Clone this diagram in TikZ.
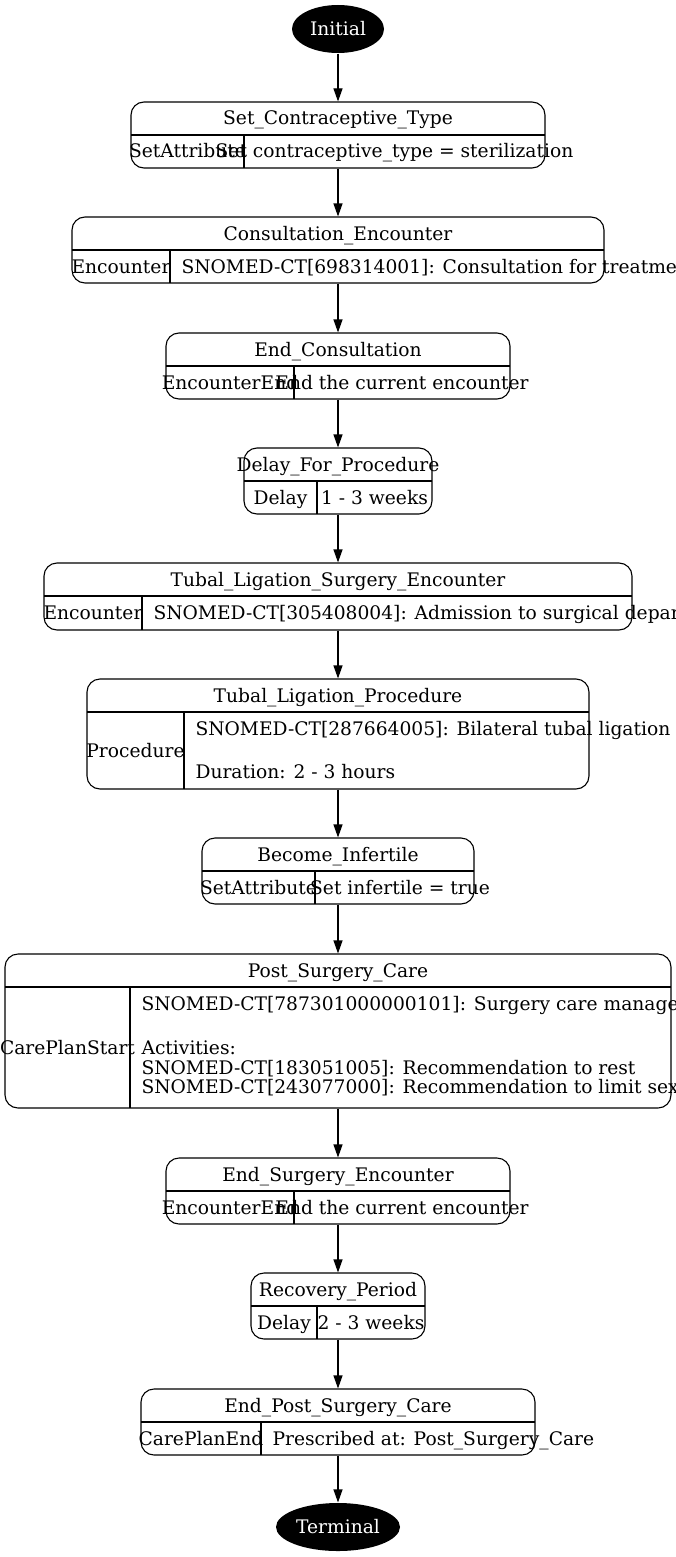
\documentclass[tikz,border=0pt]{standalone}
\usepackage{fontspec}
\setmainfont{DejaVu Serif}
\usetikzlibrary{arrows.meta,shapes.geometric}
\begin{document}
\begin{tikzpicture}[x=1pt, y=-1pt, line width=1.1pt,
    state/.style={draw, rounded corners=13pt, inner sep=0pt},
    term/.style={ellipse, fill=black, text=white, inner sep=0pt},
    lbl/.style={inner sep=0pt, text height=13pt, text depth=0pt},
    edge/.style={-{Triangle[length=13pt,width=9pt]}},
    every node/.style={font=\fontsize{18.67}{22}\selectfont}]
    \useasboundingbox (0,0) rectangle (676,1557);
    \clip (0,0) rectangle (676,1557);

    \node[term, minimum width=92pt, minimum height=48pt, text height=13pt, text depth=0pt] (init) at (338,29) {Initial};

    \node[state, minimum width=414pt, minimum height=66pt] (sct) at (338,135) {};
    \draw (131,135) -- (545,135);
    \draw (244,135) -- (244,168);
    \node[lbl] at (338,118.5) {Set\_Contraceptive\_Type};
    \node[lbl] at (187.5,151.5) {SetAttribute};
    \node[lbl] at (394.5,151.5) {Set contraceptive\_type = sterilization};

    \node[state, minimum width=532pt, minimum height=66pt] (cons) at (338,250) {};
    \draw (72,250) -- (604,250);
    \draw (170,250) -- (170,283);
    \node[lbl] at (338,233.5) {Consultation\_Encounter};
    \node[lbl] at (121,266.5) {Encounter};
    \node[lbl, anchor=west] at (181,266.5) {SNOMED-CT[698314001]: Consultation for treatment};

    \node[state, minimum width=344pt, minimum height=66pt] (endcons) at (338,366) {};
    \draw (166,366) -- (510,366);
    \draw (294,366) -- (294,399);
    \node[lbl] at (338,349.5) {End\_Consultation};
    \node[lbl] at (230,382.5) {EncounterEnd};
    \node[lbl] at (402,382.5) {End the current encounter};

    \node[state, minimum width=188pt, minimum height=66pt] (delay) at (338,481) {};
    \draw (244,481) -- (432,481);
    \draw (317,481) -- (317,514);
    \node[lbl] at (338,464.5) {Delay\_For\_Procedure};
    \node[lbl] at (280.5,497.5) {Delay};
    \node[lbl] at (374.5,497.5) {1 - 3 weeks};

    \node[state, minimum width=588pt, minimum height=67pt] (surg) at (338,596.5) {};
    \draw (44,596) -- (632,596);
    \draw (142,596) -- (142,630);
    \node[lbl] at (338,579.5) {Tubal\_Ligation\_Surgery\_Encounter};
    \node[lbl] at (93,613) {Encounter};
    \node[lbl, anchor=west] at (153,613) {SNOMED-CT[305408004]: Admission to surgical department};

    \node[state, minimum width=502pt, minimum height=110pt] (proc) at (338,734) {};
    \draw (87,712) -- (589,712);
    \draw (184,712) -- (184,789);
    \node[lbl] at (338,695.5) {Tubal\_Ligation\_Procedure};
    \node[lbl] at (135.5,750.5) {Procedure};
    \node[lbl, anchor=west] at (195,728.5) {SNOMED-CT[287664005]: Bilateral tubal ligation};
    \node[lbl, anchor=west] at (195,772) {Duration: 2 - 3 hours};

    \node[state, minimum width=272pt, minimum height=66pt] (infert) at (338,871) {};
    \draw (202,871) -- (474,871);
    \draw (315,871) -- (315,904);
    \node[lbl] at (338,854.5) {Become\_Infertile};
    \node[lbl] at (258.5,887.5) {SetAttribute};
    \node[lbl] at (400,887.5) {Set infertile = true};

    \node[state, minimum width=666pt, minimum height=154pt] (care) at (338,1031) {};
    \draw (5,987) -- (671,987);
    \draw (130,987) -- (130,1108);
    \node[lbl] at (338,970.5) {Post\_Surgery\_Care};
    \node[lbl] at (67.5,1047.5) {CarePlanStart};
    \node[lbl, anchor=west] at (141,1003.5) {SNOMED-CT[787301000000101]: Surgery care management};
    \node[lbl, anchor=west] at (141,1047.5) {Activities:};
    \node[lbl, anchor=west] at (141,1068) {SNOMED-CT[183051005]: Recommendation to rest};
    \node[lbl, anchor=west] at (141,1087) {SNOMED-CT[243077000]: Recommendation to limit sexual activity};

    \node[state, minimum width=344pt, minimum height=66pt] (endsurg) at (338,1191) {};
    \draw (166,1191) -- (510,1191);
    \draw (294,1191) -- (294,1224);
    \node[lbl] at (338,1174.5) {End\_Surgery\_Encounter};
    \node[lbl] at (230,1207.5) {EncounterEnd};
    \node[lbl] at (402,1207.5) {End the current encounter};

    \node[state, minimum width=174pt, minimum height=66pt] (recov) at (338,1306) {};
    \draw (251,1306) -- (425,1306);
    \draw (317,1306) -- (317,1339);
    \node[lbl] at (338,1289.5) {Recovery\_Period};
    \node[lbl] at (284,1322.5) {Delay};
    \node[lbl] at (371,1322.5) {2 - 3 weeks};

    \node[state, minimum width=394pt, minimum height=66pt] (endcare) at (338,1422) {};
    \draw (141,1422) -- (535,1422);
    \draw (261,1422) -- (261,1455);
    \node[lbl] at (338,1405.5) {End\_Post\_Surgery\_Care};
    \node[lbl] at (201,1438.5) {CarePlanEnd};
    \node[lbl, anchor=west] at (272,1438.5) {Prescribed at: Post\_Surgery\_Care};

    \node[term, minimum width=124pt, minimum height=48pt, text height=13pt, text depth=0pt] (term) at (338,1527) {Terminal};

    \draw[edge] (init) -- (sct);
    \draw[edge] (sct) -- (cons);
    \draw[edge] (cons) -- (endcons);
    \draw[edge] (endcons) -- (delay);
    \draw[edge] (delay) -- (surg);
    \draw[edge] (surg) -- (proc);
    \draw[edge] (proc) -- (infert);
    \draw[edge] (infert) -- (care);
    \draw[edge] (care) -- (endsurg);
    \draw[edge] (endsurg) -- (recov);
    \draw[edge] (recov) -- (endcare);
    \draw[edge] (endcare) -- (term);
\end{tikzpicture}
\end{document}
